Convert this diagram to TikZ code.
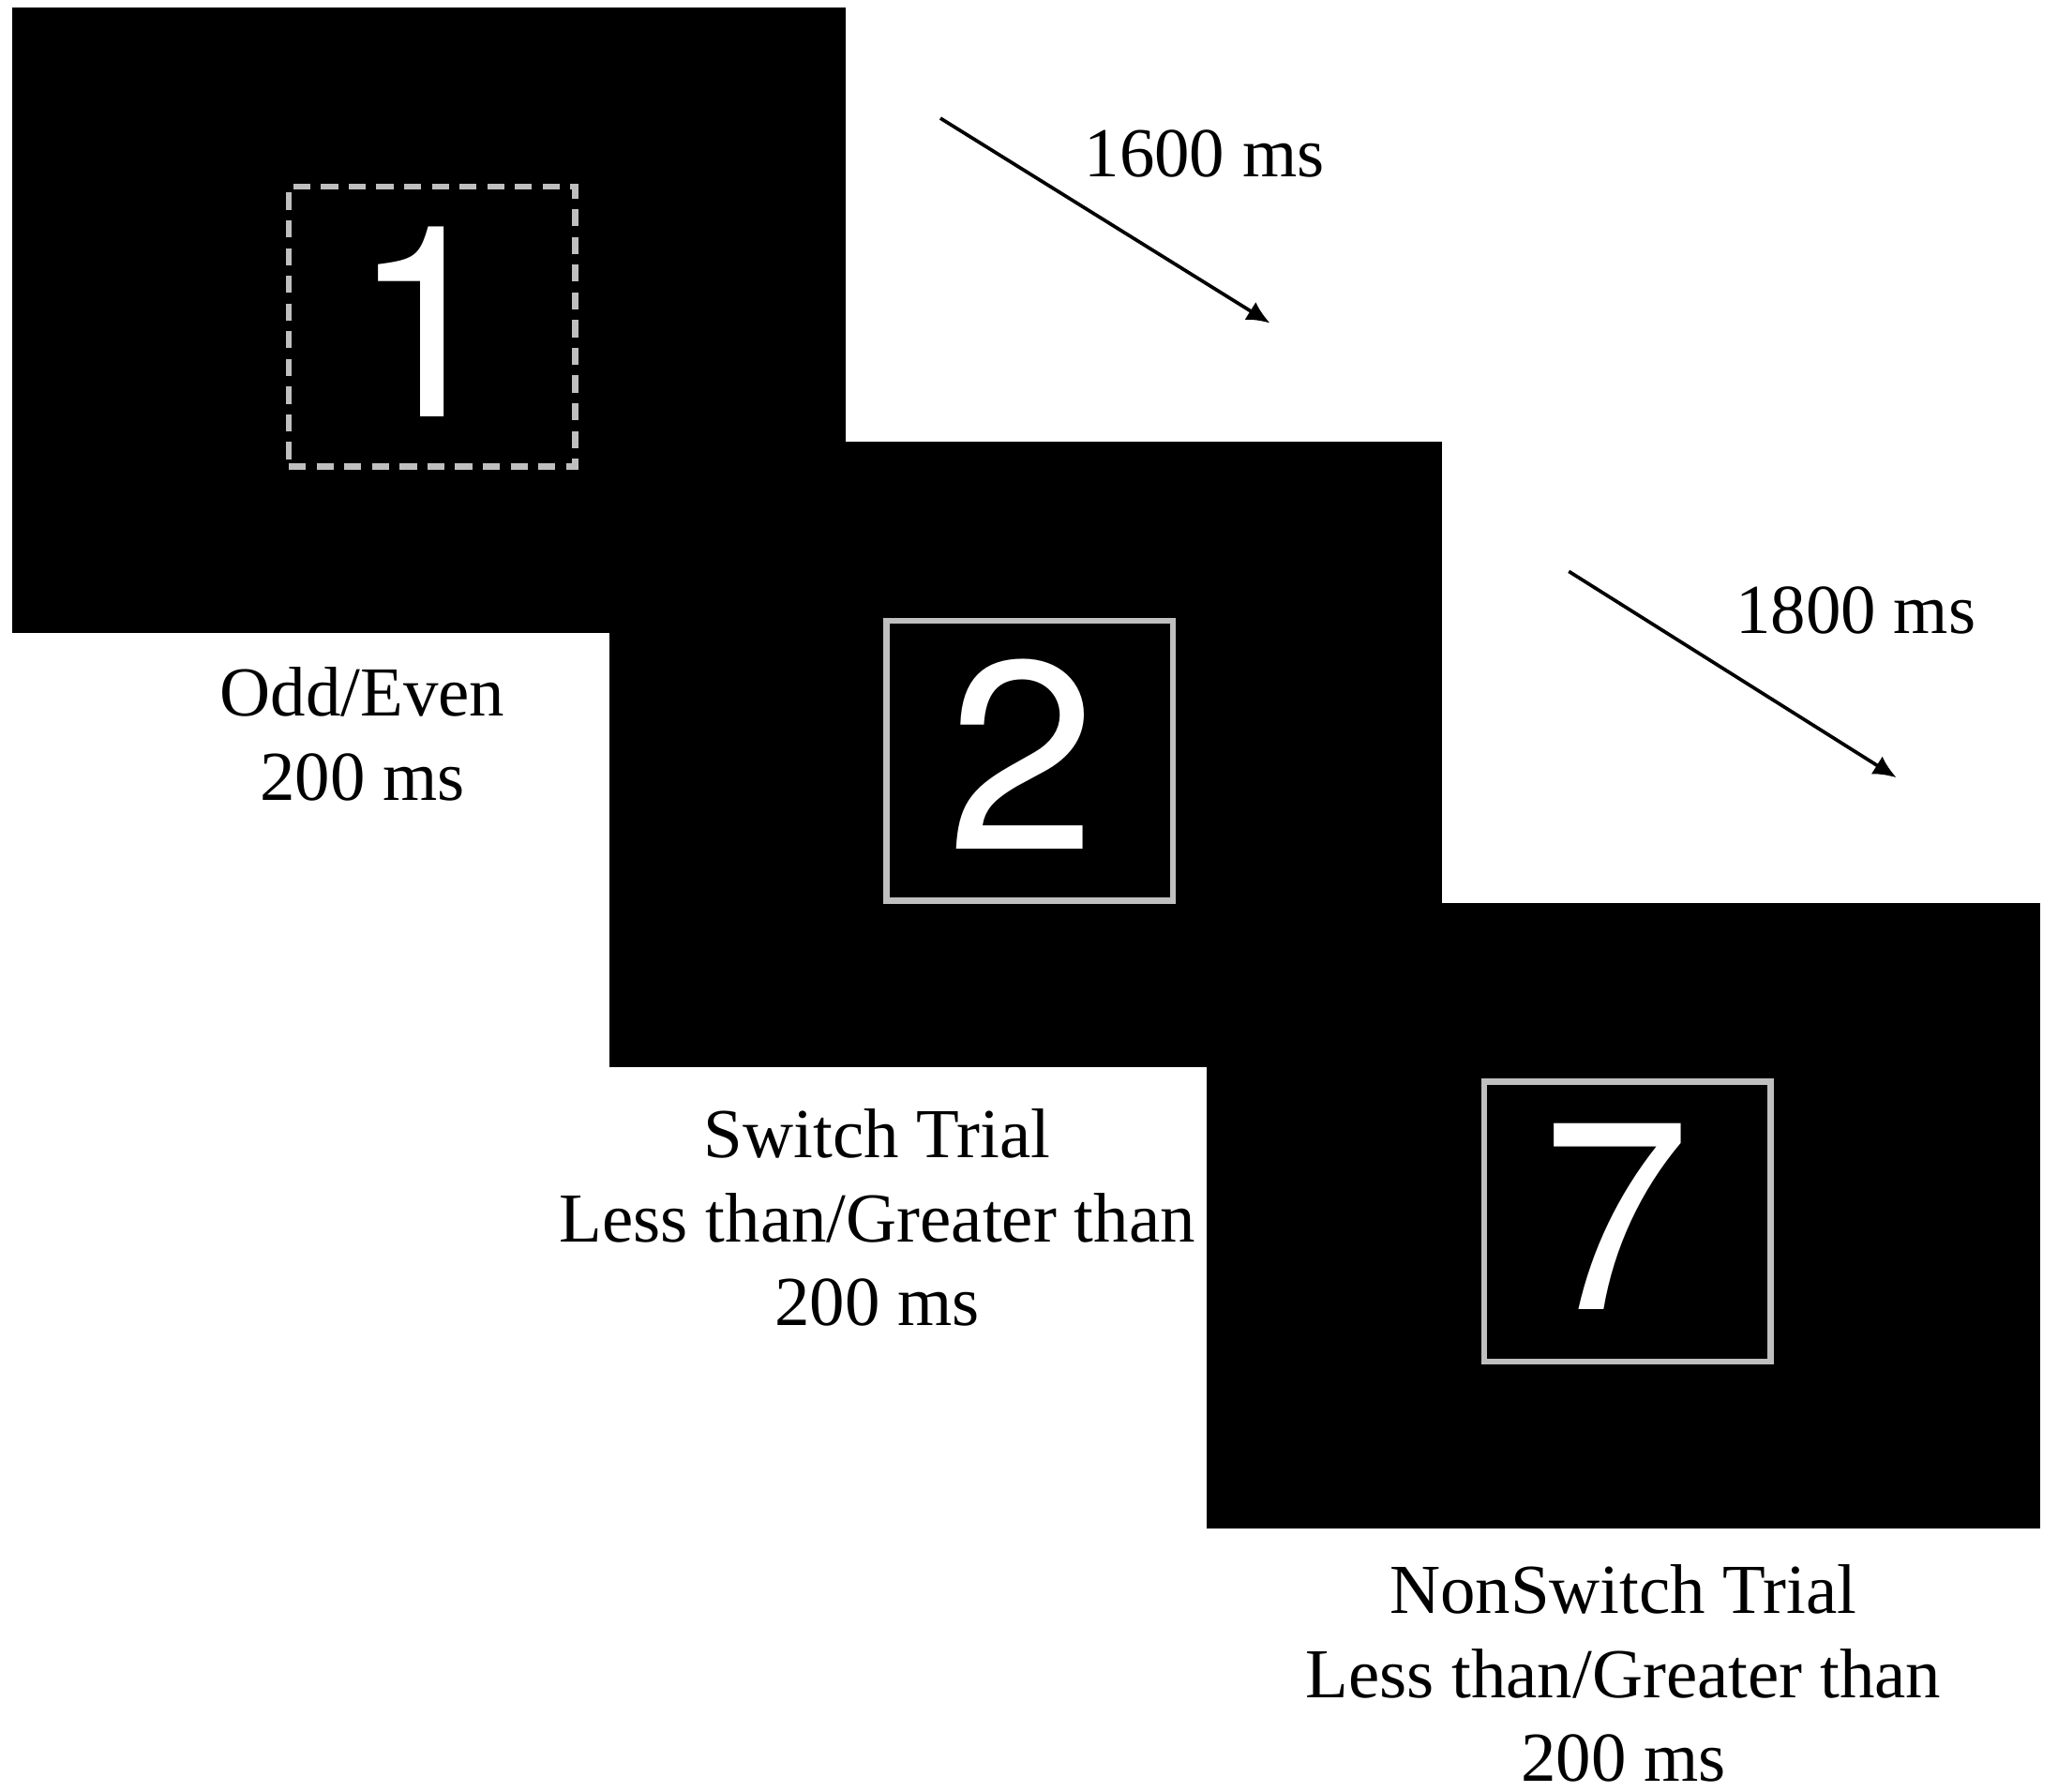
\documentclass[tikz,border=0pt]{standalone}
\usepackage{fontspec}
\setmainfont{Liberation Serif}
\newfontfamily\digitfont{TeX Gyre Heros}
\usetikzlibrary{arrows.meta}
\tikzset{
  screen/.style={fill=black, draw=none, inner sep=0pt, minimum width=6.34cm, minimum height=4.76cm},
  framebox/.style={draw=black!25, line width=1.3pt, inner sep=0pt, minimum width=2.18cm, minimum height=2.13cm},
  dashframe/.style={framebox, dash pattern=on 3.7pt off 2.3pt},
  digit/.style={text=white, inner sep=0pt, font=\digitfont\fontsize{58pt}{60pt}\selectfont},
  caption/.style={align=center, inner sep=0pt, font=\fontsize{15.2pt}{18.2pt}\selectfont},
  timearrow/.style={line width=0.75pt, -{Latex[length=5pt, width=4.5pt]}}
}
\begin{document}
\begin{tikzpicture}[x=0.01cm, y=-0.01cm]
\useasboundingbox (0,0) rectangle (1567,1364);
% screens
\node[screen] (scr1) at (326.5,243.5) {};
\node[screen] (scr2) at (781,574.5) {};
\node[screen] (scr3) at (1236,925.5) {};
% frames
\node[dashframe] (f1) at (329,248.5) {};
\node[framebox] (f2) at (784,579) {};
\node[framebox] (f3) at (1239,930) {};
% digits
\node[digit] (d1) at (324,245) {1};
\node[digit] (d2) at (778,574) {2};
\node[digit] (d3) at (1231,926.5) {7};
% captions
\node[caption] (c1) at (276,559) {Odd/Even\\200 ms};
\node[caption] (c2) at (668,927) {Switch Trial\\Less than/Greater than\\200 ms};
\node[caption] (c3) at (1236,1274) {NonSwitch Trial\\Less than/Greater than\\200 ms};
% arrows
\coordinate (a1s) at (716,90);
\coordinate (a1e) at (967,246);
\coordinate (a2s) at (1194.5,435);
\coordinate (a2e) at (1444,592);
\draw[timearrow] (a1s) -- (a1e);
\draw[timearrow] (a2s) -- (a2e);
\node[caption] (t1) at (917,117) {1600 ms};
\node[caption] (t2) at (1413,465) {1800 ms};
\end{tikzpicture}
\end{document}
